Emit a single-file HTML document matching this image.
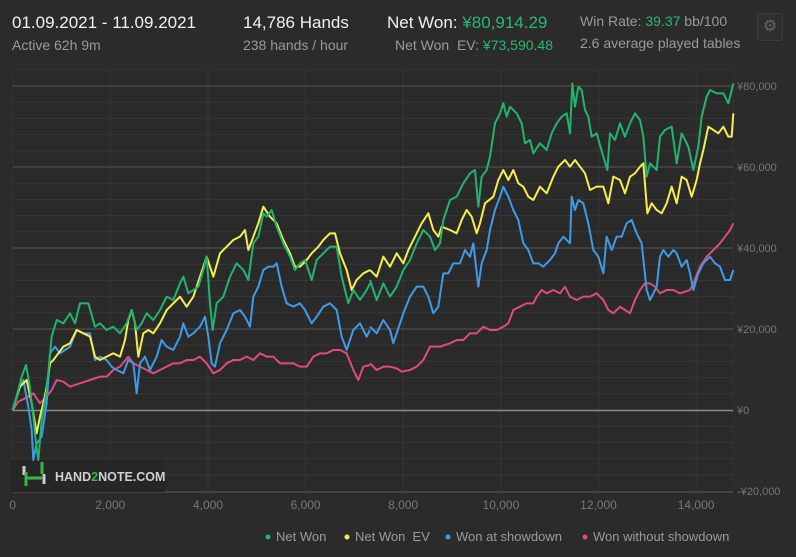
<!DOCTYPE html>
<html><head><meta charset="utf-8"><style>
body{margin:0;width:796px;height:557px;background:#2b2b2b;font-family:"Liberation Sans",sans-serif;overflow:hidden;position:relative}
.t{position:absolute;white-space:nowrap}
.w{color:#f0f0f0;font-size:17px}
.g{color:#9a9a9a;font-size:14px}
.gr{color:#27b873}
</style></head><body>
<div class="t w" style="left:12px;top:13px">01.09.2021 - 11.09.2021</div>
<div class="t g" style="left:12px;top:37px">Active 62h 9m</div>
<div class="t w" style="left:243px;top:13px">14,786 Hands</div>
<div class="t g" style="left:243px;top:37px">238 hands / hour</div>
<div class="t w" style="left:387px;top:13px">Net Won: <span class="gr">¥80,914.29</span></div>
<div class="t g" style="right:243px;top:37px">Net Won&nbsp; EV: <span class="gr">¥73,590.48</span></div>
<div class="t g" style="left:580px;top:13px">Win Rate: <span class="gr">39.37</span> bb/100</div>
<div class="t g" style="left:580px;top:35px">2.6 average played tables</div>
<div class="t" style="left:757px;top:13px;width:24px;height:26px;border:1px solid #3c3c3c;border-radius:3px;background:#2f2f2f;color:#666;font-size:16px;text-align:center;line-height:26px">⚙</div>

<svg class="t" style="left:0;top:0" width="796" height="557">
<rect x="12.7" y="70" width="720.3" height="422" fill="#2a2a2a" stroke="#333"/>
<g stroke="#363636" stroke-width="1">
<line x1="110.3" y1="70" x2="110.3" y2="492"/><line x1="208" y1="70" x2="208" y2="492"/><line x1="305.6" y1="70" x2="305.6" y2="492"/><line x1="403.2" y1="70" x2="403.2" y2="492"/><line x1="500.9" y1="70" x2="500.9" y2="492"/><line x1="598.5" y1="70" x2="598.5" y2="492"/><line x1="696.1" y1="70" x2="696.1" y2="492"/>
<line x1="12.7" x2="733" y1="102.2" y2="102.2"/><line x1="12.7" x2="733" y1="118.4" y2="118.4"/><line x1="12.7" x2="733" y1="134.6" y2="134.6"/><line x1="12.7" x2="733" y1="150.8" y2="150.8"/>
<line x1="12.7" x2="733" y1="183.2" y2="183.2"/><line x1="12.7" x2="733" y1="199.4" y2="199.4"/><line x1="12.7" x2="733" y1="215.6" y2="215.6"/><line x1="12.7" x2="733" y1="231.8" y2="231.8"/>
<line x1="12.7" x2="733" y1="264.2" y2="264.2"/><line x1="12.7" x2="733" y1="280.4" y2="280.4"/><line x1="12.7" x2="733" y1="296.6" y2="296.6"/><line x1="12.7" x2="733" y1="312.8" y2="312.8"/>
<line x1="12.7" x2="733" y1="345.2" y2="345.2"/><line x1="12.7" x2="733" y1="361.4" y2="361.4"/><line x1="12.7" x2="733" y1="377.6" y2="377.6"/><line x1="12.7" x2="733" y1="393.8" y2="393.8"/>
<line x1="12.7" x2="733" y1="426.2" y2="426.2"/><line x1="12.7" x2="733" y1="442.4" y2="442.4"/><line x1="12.7" x2="733" y1="458.6" y2="458.6"/><line x1="12.7" x2="733" y1="474.8" y2="474.8"/>
</g>
<g stroke="#555" stroke-width="1">
<line x1="12.7" x2="733" y1="86" y2="86"/><line x1="12.7" x2="733" y1="167" y2="167"/><line x1="12.7" x2="733" y1="248" y2="248"/><line x1="12.7" x2="733" y1="329" y2="329"/>
</g>
<line x1="12.7" x2="733" y1="410.5" y2="410.5" stroke="#8a8a8a" stroke-width="1.5"/>
<line x1="12.7" x2="733" y1="492" y2="492" stroke="#444" stroke-width="2"/>
<g font-size="11" fill="#777">
<text x="737" y="90">¥80,000</text><text x="737" y="171">¥60,000</text><text x="737" y="252">¥40,000</text><text x="737" y="333">¥20,000</text><text x="737" y="414">¥0</text><text x="737" y="495">-¥20,000</text>
</g>
<g font-size="12" fill="#777" text-anchor="middle">
<text x="12.7" y="509">0</text><text x="110.3" y="509">2,000</text><text x="208" y="509">4,000</text><text x="305.6" y="509">6,000</text><text x="403.2" y="509">8,000</text><text x="500.9" y="509">10,000</text><text x="598.5" y="509">12,000</text><text x="696.1" y="509">14,000</text>
</g>
<rect x="10" y="460" width="155" height="32" fill="#262626"/>
<g stroke-width="3" fill="none">
<path d="M24 466v9M44 474v10" stroke="#ccc"/>
<path d="M26 472v14M42 462v12M26 478h16" stroke="#3bb44a"/>
</g>
<text x="55" y="481" font-size="12.5" font-weight="bold" fill="#d0d0d0">HAND<tspan fill="#3bb44a">2</tspan>NOTE.COM</text>

<g fill="none" stroke-width="2" stroke-linejoin="round" vector-effect="non-scaling-stroke">
<g transform="translate(0,70) scale(0.33333)">
<polyline vector-effect="non-scaling-stroke" stroke="#e14a7e" points="38,1020 55,995 75,985 100,970 120,1000 140,980 155,960 170,930 190,935 210,950 240,940 270,930 300,920 320,920 340,900 360,890 385,860 400,880 420,890 440,900 460,910 480,900 500,890 520,880 540,880 560,870 580,870 600,860 620,880 640,910 660,900 680,880 700,870 720,870 740,860 760,870 780,850 800,860 820,860 840,880 860,880 880,880 900,890 920,890 940,860 960,850 980,850 1000,840 1020,840 1040,850 1060,900 1075,930 1090,890 1110,885"/>
<polyline vector-effect="non-scaling-stroke" stroke="#3f9be6" points="38,1020 55,960 70,930 85,1010 95,1080 100,1170 110,1120 125,1100 140,1000 150,850 165,830 180,850 195,840 210,830 230,780 250,790 270,790 285,870 300,860 320,870 335,890 350,900 370,910 385,870 400,880 410,970 420,880 435,860 450,900 470,860 485,810 500,830 520,840 540,800 550,760 565,800 580,790 600,770 615,740 625,800 635,880 645,890 660,820 680,780 700,730 720,720 735,740 750,770 760,680 775,650 790,600 805,590 820,590 830,580 845,650 860,700 880,710 900,700 915,720 935,760 950,740 970,710 990,700 1010,720 1025,800 1040,840 1060,780 1080,760 1100,800 1110,780"/>
<polyline vector-effect="non-scaling-stroke" stroke="#f5ee4c" points="38,1020 60,950 80,930 95,1000 100,1030 110,1090 120,1040 130,1000 140,950 150,880 160,870 175,850 190,830 210,820 230,780 250,790 270,800 285,860 300,870 320,860 340,850 360,860 375,810 385,750 395,720 405,760 415,860 430,790 445,780 460,790 480,760 500,720 520,700 540,680 560,710 580,680 600,620 620,560 640,620 660,550 680,530 700,510 720,500 735,480 745,540 760,500 775,460 790,410 810,440 830,460 850,510 870,550 885,590 900,590 920,570 935,550 955,530 970,510 990,490 1005,490 1020,550 1040,600 1055,660 1070,630 1090,610 1110,600"/>
<polyline vector-effect="non-scaling-stroke" stroke="#22b46f" points="38,1020 50,980 65,920 78,885 88,940 100,1040 108,1120 115,1170 125,1050 140,960 155,800 170,750 190,760 210,730 225,760 240,700 265,700 285,770 300,760 320,780 340,770 360,790 380,760 395,720 410,780 425,760 440,730 460,750 480,720 500,680 520,690 540,640 550,620 565,670 580,660 595,650 610,600 620,560 630,700 638,780 650,700 670,680 690,620 710,580 730,600 745,630 760,520 775,500 790,430 800,440 815,420 830,470 850,520 870,560 885,600 900,580 915,570 935,630 950,570 970,550 990,530 1010,530 1025,620 1045,700 1060,660 1080,690 1100,660 1110,640"/>
</g>
<g transform="translate(370,70) scale(0.33333)">
<polyline vector-effect="non-scaling-stroke" stroke="#e14a7e" points="0,880 20,900 40,890 60,890 80,895 95,905 120,900 140,890 160,870 180,830 210,830 240,820 260,810 280,810 300,790 320,790 340,770 360,780 380,780 400,770 415,760 430,720 450,710 470,700 490,700 500,680 515,660 530,670 550,660 570,670 585,650 600,680 620,690 640,680 660,680 680,670 700,690 715,720 730,730 750,710 765,720 780,730 795,690 810,660 825,640 840,640 855,650 870,670 890,660 910,660 930,670 960,660 970,640 990,590 1010,560 1030,540 1050,520 1065,500 1080,480 1090,460"/>
<polyline vector-effect="non-scaling-stroke" stroke="#3f9be6" points="0,770 20,790 40,750 60,780 70,820 90,760 100,730 120,680 140,650 160,650 175,680 190,730 205,710 220,610 235,610 250,580 270,580 285,540 300,560 310,520 325,650 335,580 350,540 360,480 375,420 390,380 400,350 415,380 430,420 445,450 460,520 475,540 490,580 505,580 520,590 540,570 555,550 565,520 580,500 600,520 605,380 615,420 625,390 640,400 655,460 670,540 685,560 700,610 710,500 725,540 740,500 755,500 770,460 785,450 800,490 815,520 830,660 840,690 860,650 870,560 880,540 895,560 910,540 920,550 935,590 950,570 960,610 970,660 985,610 1000,580 1020,560 1035,580 1050,590 1065,630 1080,630 1090,600"/>
<polyline vector-effect="non-scaling-stroke" stroke="#f5ee4c" points="0,600 20,620 40,560 60,590 80,550 100,580 115,540 135,500 155,460 175,430 190,480 205,500 215,470 240,480 260,490 275,450 290,420 305,440 320,490 330,460 345,400 370,380 385,330 400,300 415,330 430,300 445,340 460,350 475,380 490,390 510,350 530,370 550,320 565,290 585,270 600,290 615,270 630,290 645,310 660,360 680,350 700,350 715,400 730,320 750,330 765,370 780,320 795,310 810,290 820,280 832,430 845,400 860,420 875,430 890,400 905,350 920,400 935,320 950,330 965,380 980,330 990,280 1000,240 1015,170 1030,180 1045,190 1060,170 1075,200 1085,200 1090,130"/>
<polyline vector-effect="non-scaling-stroke" stroke="#22b46f" points="0,630 20,690 40,640 60,680 80,650 100,600 120,570 140,520 160,480 180,500 195,540 210,520 220,450 240,390 260,380 280,340 300,310 315,300 325,410 335,320 350,300 360,260 375,160 390,130 400,100 410,140 420,110 440,130 455,160 465,220 480,210 490,250 510,220 530,240 545,190 560,160 575,140 590,130 600,190 607,40 615,110 625,50 635,60 645,120 655,140 665,200 680,190 700,260 712,300 720,190 735,210 750,160 765,200 780,160 795,130 810,150 820,200 830,320 840,280 860,300 870,200 885,180 905,170 920,280 935,190 955,230 970,300 985,230 995,140 1010,80 1020,60 1040,70 1060,70 1075,100 1090,40"/>
</g>
</g>
<g font-size="13" fill="#9a9a9a">
<circle cx="268" cy="537" r="2.5" fill="#22b46f"/><text x="276" y="541">Net Won</text>
<circle cx="347" cy="537" r="2.5" fill="#f5ee4c"/><text x="355" y="541">Net Won&#160; EV</text>
<circle cx="448" cy="537" r="2.5" fill="#3f9be6"/><text x="456" y="541">Won at showdown</text>
<circle cx="585" cy="537" r="2.5" fill="#e14a7e"/><text x="593" y="541">Won without showdown</text>
</g>
</svg>
</body></html>
